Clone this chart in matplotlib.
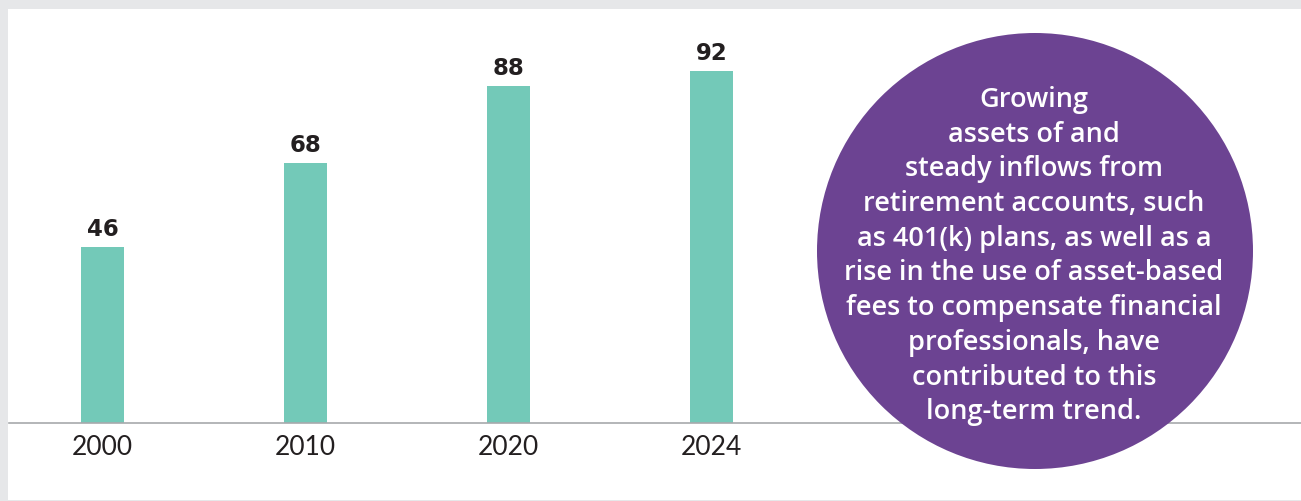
import matplotlib

matplotlib.use("Agg")
import matplotlib.pyplot as plt
from matplotlib.patches import Ellipse, Rectangle

# values shown above each bar
YEARS = ["2000", "2010", "2020", "2024"]
VALUES = [46, 68, 88, 92]

NOTE_LINES = [
    "Growing",
    "assets of and",
    "steady inflows from",
    "retirement accounts, such",
    "as 401(k) plans, as well as a",
    "rise in the use of asset-based",
    "fees to compensate financial",
    "professionals, have",
    "contributed to this",
    "long-term trend.",
]

BAR_COLOR = "#73c9b8"
CIRCLE_COLOR = "#6c4392"
FRAME_COLOR = "#e6e7e9"
TEXT_COLOR = "#231f20"

W, H = 1301, 502
plt.rcParams["font.family"] = ["Lato", "DejaVu Sans"]

fig = plt.figure(figsize=(W / 100, H / 100), dpi=100, facecolor=FRAME_COLOR)

# white panel inside the grey frame
fig.patches.append(
    Rectangle((8 / W, 1.5 / H), (W - 8) / W, (H - 11.5) / H,
              transform=fig.transFigure, facecolor="white", edgecolor="none", zorder=-5)
)

ax = fig.add_axes([9 / W, 78.5 / H, (W - 9) / W, 413.5 / H])
ax.set_facecolor("none")
x = list(range(len(YEARS)))
ax.bar(x, VALUES, width=0.212, color=BAR_COLOR, zorder=2)
for xi, v in zip(x, VALUES):
    ax.annotate(str(v), (xi, v), xytext=(0, 5), textcoords="offset points",
                ha="center", va="bottom", fontsize=16.5, fontweight="bold",
                color=TEXT_COLOR, family=["DejaVu Sans"])

ax.set_xlim(-0.4606, 5.904)
ax.set_ylim(0, 413.5 / 3.82)
ax.axhline(0, color="#a7a9ac", lw=1.2, zorder=3, clip_on=False)
ax.set_xticks(x, labels=YEARS)
ax.tick_params(axis="x", length=0, pad=8, labelsize=19, labelcolor=TEXT_COLOR)
ax.set_yticks([])
for s in ax.spines.values():
    s.set_visible(False)

# purple call-out circle with the explanatory note
cx, cy, r = 1035, H - 252, 218
fig.patches.append(
    Ellipse((cx / W, cy / H), 2 * r / W, 2 * r / H, transform=fig.transFigure,
            facecolor=CIRCLE_COLOR, edgecolor="none", zorder=5)
)
base = H - 107
step = 34.7
for i, line in enumerate(NOTE_LINES):
    fig.text(1034 / W, (base - i * step) / H, line, ha="center", va="baseline",
             fontsize=19.5, fontweight="semibold", color="white", zorder=6,
             family=["Open Sans", "DejaVu Sans"])

fig.savefig("out.png", dpi=100, facecolor=FRAME_COLOR)
